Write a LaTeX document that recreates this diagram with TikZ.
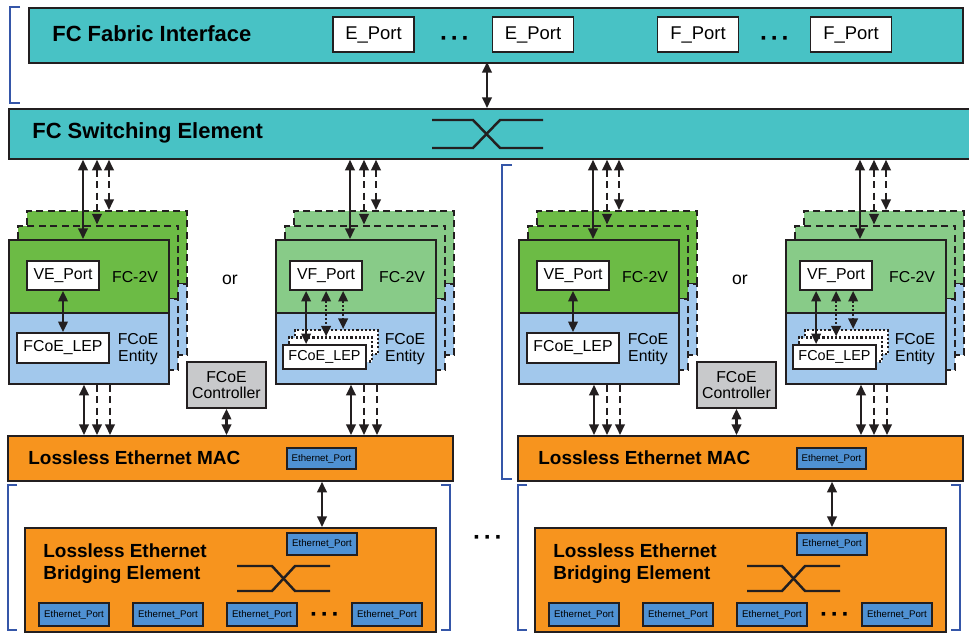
\documentclass[tikz,border=0pt]{standalone}
\usepackage{fontspec}
\setmainfont{Liberation Sans}
\usetikzlibrary{arrows.meta,positioning,calc}
\definecolor{LineBlack}{HTML}{231F20}
\definecolor{FabricTeal}{HTML}{48C2C5}
\definecolor{VEgreen}{HTML}{6CBB45}
\definecolor{VFgreen}{HTML}{88CB88}
\definecolor{EntBlue}{HTML}{A2C8EC}
\definecolor{MacOrange}{HTML}{F7941E}
\definecolor{PortBlue}{HTML}{4F91D3}
\definecolor{CtrlGray}{HTML}{C8C9CB}
\definecolor{BracketBlue}{HTML}{3556A8}

\begin{document}
\begin{tikzpicture}[x=0.02cm,y=-0.02cm,
    every node/.style={font=\fontsize{9}{9.4}\selectfont},
    wh/.style 2 args={minimum width=#1*0.02cm,minimum height=#2*0.02cm},
    blk/.style={draw=LineBlack,line width=1pt,inner sep=0pt},
    band/.style={blk,anchor=north west},
    layer/.style={band,line width=1.3pt,dash pattern=on 4pt off 2.5pt},
    port/.style={blk,fill=white},
    dotbox/.style={blk,fill=white,line width=1.2pt,dash pattern=on 1.2pt off 1.2pt},
    eport/.style={blk,fill=PortBlue,line width=1.1pt,font=\fontsize{5.5}{6}\selectfont},
    ttlL/.style={anchor=west,inner sep=0pt,font=\fontsize{12.5}{14}\selectfont\bfseries},
    ttlM/.style={anchor=west,inner sep=0pt,align=left,font=\fontsize{10.8}{12.5}\selectfont\bfseries},
    dots/.style={font=\fontsize{14}{14}\selectfont\bfseries},
    biarr/.style={{Triangle[length=6pt,width=5.4pt]}-{Triangle[length=6pt,width=5.4pt]},draw=LineBlack,line width=1.2pt},
    downarr/.style={-{Triangle[length=6pt,width=5.4pt]},draw=LineBlack,line width=1.2pt,dash pattern=on 4pt off 2.5pt},
    dasharr/.style={biarr,dash pattern=on 4pt off 2.5pt},
    dotarr/.style={biarr,line width=1.2pt,dash pattern=on 1.2pt off 1.2pt},
    xsw/.style={draw=LineBlack,line width=1.4pt},
    brk/.style={draw=BracketBlue,line width=1.4pt}
  ]
    \useasboundingbox (0,0) rectangle (969,632);

    \node[band,fill=FabricTeal,wh={934}{55}] (fab) at (28,7) {};
    \node[ttlL] (fabttl) at (52,34) {FC Fabric Interface};
    \node[port,wh={81}{35},font=\fontsize{10.5}{11}\selectfont] (ep1) at (373.5,34.5) {E\_Port};
    \node[port,wh={81}{35},font=\fontsize{10.5}{11}\selectfont] (ep2) at (533,34.5) {E\_Port};
    \node[port,wh={81}{35},font=\fontsize{10.5}{11}\selectfont] (fp1) at (698,34.5) {F\_Port};
    \node[port,wh={81}{35},font=\fontsize{10.5}{11}\selectfont] (fp2) at (851,34.5) {F\_Port};
    \node[dots] (edots) at (455,41) {·\hspace{1.5pt}·\hspace{1.5pt}·};
    \node[dots] (fdots) at (775,41) {·\hspace{1.5pt}·\hspace{1.5pt}·};
    \node[band,fill=FabricTeal,wh={962}{50}] (fcse) at (8,108) {};
    \node[ttlL] (fcsettl) at (32,133) {FC Switching Element};
    \draw[xsw] (432,120) -- (473,120) -- (500,148) -- (543,148);
    \draw[xsw] (432,148) -- (473,148) -- (500,120) -- (543,120);
    \coordinate (fabtap) at (487,62);
    \draw[biarr] (fabtap) -- (fabtap |- fcse.north);

    \draw[brk] (20,7) -- (10,7) -- (10,103) -- (20,103);
    \draw[brk] (512,165) -- (502,165) -- (502,479) -- (512,479);
    \node[dots] (middots) at (488,540) {·\hspace{1.5pt}·\hspace{1.5pt}·};

    \foreach \s/\H in {0/L,510/R}{
      \node[band,fill=MacOrange,wh={445}{45}] (\H-mac) at (7+\s,435) {};
      \node[ttlM] (\H-macttl) at (28+\s,458) {Lossless Ethernet MAC};
      \node[eport,wh={69}{21}] (\H-macport) at (321.5+\s,458.5) {Ethernet\_Port};
      \node[band,fill=MacOrange,wh={411}{104}] (\H-brg) at (24+\s,527) {};
      \node[ttlM] (\H-brgttl) at (43+\s,564) {Lossless Ethernet\\Bridging Element};
      \node[eport,wh={70}{22}] (\H-brgport) at (322+\s,544) {Ethernet\_Port};
      \foreach \px/\n in {74/1,168/2,262/3,387/4}
        \node[eport,wh={70}{23}] (\H-p\n) at (\px+\s,614.5) {Ethernet\_Port};
      \node[dots] (\H-pdots) at (325+\s,617) {·\hspace{1.5pt}·\hspace{1.5pt}·};
      \draw[xsw] (237+\s,566) -- (272+\s,566) -- (295+\s,591) -- (330+\s,591);
      \draw[xsw] (237+\s,591) -- (272+\s,591) -- (295+\s,566) -- (330+\s,566);
      \draw[biarr] (\H-mac.south -| \H-brgport) -- (\H-brg.north -| \H-brgport);
      \draw[brk] (17+\s,485) -- (8+\s,485) -- (8+\s,630) -- (17+\s,630);
      \draw[brk] (441+\s,485) -- (450+\s,485) -- (450+\s,630) -- (441+\s,630);
      \node[blk,fill=CtrlGray,wh={79}{46},align=center] (\H-ctrl) at (226.5+\s,385) {FCoE\\Controller};
      \draw[biarr] (\H-ctrl) -- (\H-ctrl |- \H-mac.north);
      \node[font=\fontsize{10}{10}\selectfont] (\H-or) at (230+\s,280) {or};
    }

    \foreach \X/\C/\P/\H in {8/VEgreen/a/L,275/VFgreen/b/L,518/VEgreen/c/R,785/VFgreen/d/R}{
      \foreach \k in {2,1}{
        \node[layer,fill=\C,wh={160}{73}] (\P-g\k) at (\X+9*\k,239-14.5*\k) {};
        \node[layer,fill=EntBlue,wh={160}{71}] (\P-b\k) at (\X+9*\k,312-14.5*\k) {};
      }
      \node[band,fill=\C,wh={160}{73}] (\P-fc) at (\X,239) {};
      \node[band,fill=EntBlue,wh={160}{71}] (\P-ent) at (\X,312) {};
      \node (\P-fclbl) at (\X+127,277) {FC-2V};
      \node[align=center] (\P-entlbl) at (\X+130,349) {FCoE\\Entity};
      \coordinate (\P-t0) at ($(\P-fc.north west)+(75,0)$);
      \coordinate (\P-t1) at ($(\P-g1.north west)+(80,0)$);
      \coordinate (\P-t2) at ($(\P-g2.north west)+(83,0)$);
      \draw[biarr] (\P-t0 |- fcse.south) -- (\P-t0);
      \draw[dasharr] (\P-t1 |- fcse.south) -- (\P-t1);
      \draw[dasharr] (\P-t2 |- fcse.south) -- (\P-t2);
      \coordinate (\P-s0) at ($(\P-ent.south west)+(76,0)$);
      \coordinate (\P-s1) at ($(\P-ent.south west)+(89,0)$);
      \coordinate (\P-s2) at ($(\P-ent.south west)+(102,0)$);
      \draw[biarr] (\P-s0) -- (\P-s0 |- \H-mac.north);
      \draw[downarr] (\P-s1) -- (\P-s1 |- \H-mac.north);
      \draw[downarr] (\P-s2) -- (\P-s2 |- \H-mac.north);
    }

    \foreach \X/\P in {8/a,518/c}{
      \node[port,wh={72}{29}] (\P-vep) at (\X+55,275.5) {VE\_Port};
      \node[port,wh={92}{30}] (\P-lep) at (\X+55,348) {FCoE\_LEP};
      \draw[biarr] (\P-vep) -- (\P-lep);
    }

    \foreach \X/\P in {275/b,785/d}{
      \node[port,wh={72}{29}] (\P-vfp) at (\X+51,275.5) {VF\_Port};
      \node[dotbox,wh={83}{24}] (\P-lep2) at (\X+61.5,342) {};
      \node[dotbox,wh={83}{24}] (\P-lep1) at (\X+55.5,349.5) {};
      \node[port,wh={83}{24},font=\fontsize{8.2}{9}\selectfont] (\P-lep) at (\X+49.5,357) {FCoE\_LEP};
      \coordinate (\P-v0) at ($(\P-vfp.south west)+(17,0)$);
      \coordinate (\P-v1) at ($(\P-vfp.south west)+(37,0)$);
      \coordinate (\P-v2) at ($(\P-vfp.south west)+(54,0)$);
      \draw[biarr] (\P-v0) -- (\P-v0 |- \P-lep.north);
      \draw[dotarr] (\P-v1) -- (\P-v1 |- \P-lep1.north);
      \draw[dotarr] (\P-v2) -- (\P-v2 |- \P-lep2.north);
    }
  \end{tikzpicture}
\end{document}
